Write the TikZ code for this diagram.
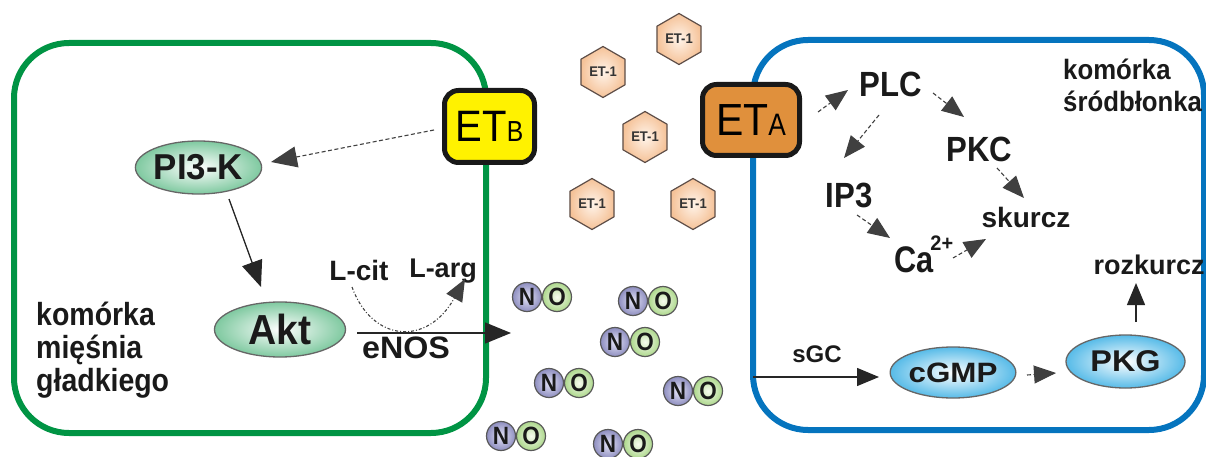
\documentclass[tikz,border=0pt]{standalone}
\usepackage{fontspec}
\setmainfont{Liberation Sans}
\usepackage{graphicx}
\usetikzlibrary{arrows.meta,shapes.geometric}
\definecolor{cellgreen}{HTML}{009444}
\definecolor{cellblue}{HTML}{0574BE}
\definecolor{etyellow}{HTML}{FFF200}
\definecolor{etorange}{HTML}{E0903C}
\definecolor{hexout}{HTML}{F5C298}
\definecolor{hexin}{HTML}{FFF4EA}
\definecolor{hexline}{HTML}{5E4E48}
\definecolor{nout}{HTML}{8E8EC0}
\definecolor{nin}{HTML}{E4E4F6}
\definecolor{oout}{HTML}{ADD88C}
\definecolor{oin}{HTML}{F6FBEE}
\definecolor{gellout}{HTML}{7FC9A0}
\definecolor{bellout}{HTML}{57BBE8}
\definecolor{txt}{HTML}{1A1A1A}
\newcommand\mytxt[3]{{\fontsize{#1}{#1}\selectfont\bfseries\scalebox{#2}[1]{#3}}}
\newcommand\myreg[3]{{\fontsize{#1}{#1}\selectfont\scalebox{#2}[1]{#3}}}
\begin{document}
\begin{tikzpicture}[x=1pt,y=-1pt,
  cellbox/.style={line width=6pt, rounded corners=55pt},
  rbox/.style={rectangle, draw=black!90, line width=5pt, rounded corners=14pt, inner sep=0pt},
  hexa/.style={regular polygon, regular polygon sides=6, shape border rotate=30, minimum size=51pt, inner sep=0pt, draw=hexline, line width=1.2pt, shading=radial, inner color=hexin, outer color=hexout, text=black!80},
  natom/.style={circle, minimum size=29pt, inner sep=0pt, draw=black!65, line width=1.2pt, shading=radial, inner color=nin, outer color=nout, text=txt},
  oatom/.style={circle, minimum size=29pt, inner sep=0pt, draw=black!65, line width=1.2pt, shading=radial, inner color=oin, outer color=oout, text=txt},
  gell/.style={ellipse, inner sep=0pt, draw=black!60, line width=1.3pt, shading=radial, inner color=white, outer color=gellout, text=txt},
  bell/.style={ellipse, inner sep=0pt, draw=black!60, line width=1.3pt, shading=radial, inner color=white, outer color=bellout, text=txt},
  lbl/.style={inner sep=0pt, text=txt},
  bighead/.style={-{Triangle[length=26pt,width=21pt]}},
  smallhead/.style={-{Triangle[length=22pt,width=18pt]}},
  sline/.style={line width=1.3pt, draw=black!85},
  dsh/.style={line width=1.1pt, draw=black!75, dash pattern=on 4pt off 2.5pt},
  dcurve/.style={line width=1.1pt, draw=black!75, dash pattern=on 3pt off 2pt on 1pt off 2pt}
]
\useasboundingbox (0,0) rectangle (1206,457);

% cell outlines
\draw[cellbox, draw=cellgreen] (14,43) rectangle (486,433);
\draw[cellbox, draw=cellblue] (753,40) rectangle (1204,430);

% receptors
\node[rbox, fill=etyellow, minimum width=90pt, minimum height=72pt] (etb) at (489.5,126.5)
  {\myreg{44}{0.91}{ET}\myreg{29}{0.85}{B}};
\node[rbox, fill=etorange, minimum width=97pt, minimum height=71pt] (eta) at (751,120)
  {\myreg{45}{0.91}{ET}\myreg{31}{0.85}{A}};

% ET-1 peptides
\node[hexa] (h1) at (679,39) {\mytxt{14}{0.93}{ET-1}};
\node[hexa] (h2) at (603,72) {\mytxt{14}{0.93}{ET-1}};
\node[hexa] (h3) at (645,137) {\mytxt{14}{0.93}{ET-1}};
\node[hexa] (h4) at (592,204) {\mytxt{14}{0.93}{ET-1}};
\node[hexa] (h5) at (693,204) {\mytxt{14}{0.93}{ET-1}};

% NO molecules
\foreach \i/\nx/\ny in {1/527/297, 2/633/301, 3/615/342, 4/549/383, 5/678/391, 6/501/436, 7/608/444}{
  \node[natom] (n\i) at (\nx,\ny) {\mytxt{25}{0.9}{N}};
  \node[oatom] (o\i) at (\nx+30,\ny) {\mytxt{25}{0.9}{O}};
}

% smooth muscle cell
\node[gell, minimum width=125pt, minimum height=53pt] (pi3k) at (198.5,167.5) {\mytxt{36}{0.97}{PI3-K}};
\node[gell, minimum width=131pt, minimum height=55pt] (akt) at (280,329.5) {\mytxt{42}{0.93}{Akt}};
\node[lbl, anchor=base west] (sm1) at (36,325) {\mytxt{32}{0.89}{komórka}};
\node[lbl, anchor=base west] (sm2) at (36,358) {\mytxt{32}{0.89}{mięśnia}};
\node[lbl, anchor=base west] (sm3) at (36,391) {\mytxt{32}{0.89}{gładkiego}};
\node[lbl, anchor=base] (lcit) at (359,280) {\mytxt{28}{1.0}{L-cit}};
\node[lbl, anchor=base] (larg) at (443,277) {\mytxt{27}{1.0}{L-arg}};
\node[lbl, anchor=base] (enos) at (406,358) {\mytxt{31}{1.04}{eNOS}};
\coordinate (noin) at (511,333);

% endothelial cell
\node[lbl, anchor=base west] (ec1) at (1063,80) {\mytxt{28}{0.92}{komórka}};
\node[lbl, anchor=base west] (ec2) at (1063,112) {\mytxt{28}{0.92}{śródbłonka}};
\node[lbl, anchor=base] (plc) at (891,97) {\mytxt{35}{0.89}{PLC}};
\node[lbl, anchor=base] (pkc) at (979.5,161) {\mytxt{35}{0.89}{PKC}};
\node[lbl, anchor=base] (ip3) at (849,207) {\mytxt{35}{0.89}{IP3}};
\node[lbl, anchor=base] (skurcz) at (1026,227) {\mytxt{28}{1.0}{skurcz}};
\node[lbl, anchor=base west] (ca) at (894,272) {\mytxt{37}{0.83}{Ca}\kern-3pt\raisebox{22pt}{\mytxt{21}{0.95}{2+}}};
\node[lbl, anchor=base] (rozk) at (1149,274) {\mytxt{27}{1.0}{rozkurcz}};
\node[lbl, anchor=base] (sgc) at (817,362) {\mytxt{24}{1.0}{sGC}};
\node[bell, minimum width=120pt, minimum height=51pt] (cgmp) at (953,372.5) {\mytxt{28}{1.12}{cGMP}};
\node[bell, minimum width=119pt, minimum height=53pt] (pkg) at (1125.5,361.5) {\mytxt{30}{1.08}{PKG}};
\coordinate (sgcin) at (753,377);

% connectors, smooth muscle cell
\draw[dsh, bighead] ([shift={(-55.5,3.5)}]etb.center) -- ([shift={(72.5,-5.5)}]pi3k.center);
\draw[sline, bighead] ([shift={(30.5,31.5)}]pi3k.center) -- ([shift={(-19,-42.5)}]akt.center);
\draw[sline, bighead] ([shift={(77,3.5)}]akt.center) -- (noin);
\draw[dcurve, smallhead] ([shift={(-7,7)}]lcit.base) .. controls +(20,55) and +(-38,68) .. ([shift={(22,2)}]larg.base);

% connectors, endothelial cell
\draw[dsh, smallhead] ([shift={(67,-8)}]eta.center) -- ([shift={(-43,-7)}]plc.base);
\draw[dsh, smallhead] ([shift={(42,-4)}]plc.base) -- ([shift={(-15.5,-44)}]pkc.base);
\draw[dsh, smallhead] ([shift={(-12,18)}]plc.base) -- ([shift={(-5,-49)}]ip3.base);
\draw[dsh, smallhead] ([shift={(17.5,7)}]pkc.base) -- ([shift={(-2,-29)}]skurcz.base);
\draw[dsh, smallhead] ([shift={(8,8)}]ip3.base) -- ([shift={(-4,-34)}]ca.base west);
\draw[dsh, smallhead] ([shift={(59,-14)}]ca.base west) -- ([shift={(-40,12)}]skurcz.base);
\draw[sline, smallhead] (sgcin) -- ([shift={(-74,4.5)}]cgmp.center);
\draw[dsh, smallhead] ([shift={(74,2.5)}]cgmp.center) -- ([shift={(-69.5,11.5)}]pkg.center);
\draw[sline, smallhead] ([shift={(10.5,-39.5)}]pkg.center) -- ([shift={(-13,9)}]rozk.base);
\end{tikzpicture}
\end{document}
